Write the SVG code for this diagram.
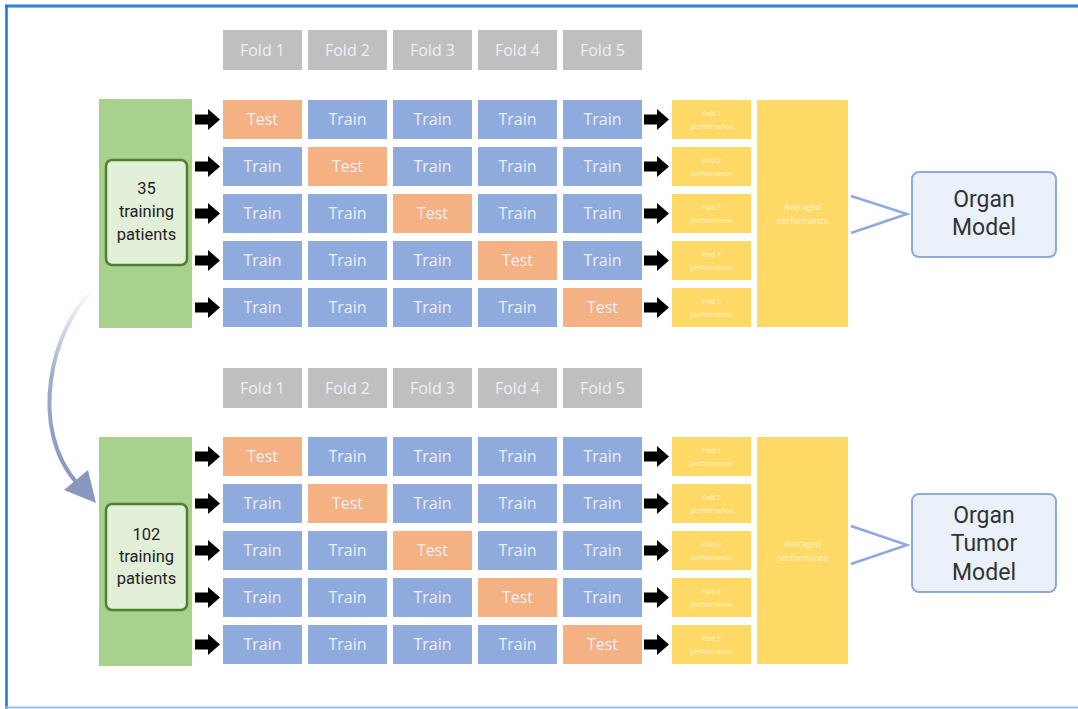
<svg xmlns="http://www.w3.org/2000/svg" xmlns:xlink="http://www.w3.org/1999/xlink" width="1078" height="709" viewBox="0 0 1078 709">
<style>
.hdr{fill:#bfbfbf}
.test{fill:#f4b183}
.train{fill:#8faadc}
.perf{fill:#ffd966}
.grn{fill:#a9d18e}
.inner{fill:#e2f0d9;stroke:#4f7f2f;stroke-width:2.5}
.ct{font-family:"Open Sans","Liberation Sans",sans-serif;font-size:16px;fill:#eef0f6;text-anchor:middle}
.pt{font-family:"Open Sans","Liberation Sans",sans-serif;font-size:7px;fill:#fff3cc;text-anchor:middle}
.at{font-family:"Open Sans","Liberation Sans",sans-serif;font-size:8.5px;fill:#fff3cc;text-anchor:middle}
.nt{font-family:Roboto,"Liberation Sans",sans-serif;font-size:16.5px;fill:#222;text-anchor:middle}
.mt{font-family:Roboto,"Liberation Sans",sans-serif;font-size:23px;fill:#333;text-anchor:middle}
.model{fill:#eaf1fb;stroke:#8ea9db;stroke-width:2}
.chev{fill:none;stroke:#8ea9db;stroke-width:2.5}
</style>
<defs>
<path id="blk" d="M0,-5 H13 V-10.5 L25,0 L13,10.5 V5 H0 Z" fill="#000"/>
<linearGradient id="cg" x1="0" y1="0" x2="0" y2="1">
<stop offset="0" stop-color="#8797c0" stop-opacity="0"/>
<stop offset="0.45" stop-color="#8797c0" stop-opacity="0.8"/>
<stop offset="1" stop-color="#8797c0"/>
</linearGradient>
</defs>
<rect x="0" y="0" width="1078" height="709" fill="#fff"/>
<g id="frame">
<line x1="5" y1="6" x2="1078" y2="6" stroke="#b8c4d4" stroke-width="4"/>
<line x1="5" y1="6" x2="1078" y2="6" stroke="#2f86dc" stroke-width="2.5"/>
<line x1="6.5" y1="5" x2="6.5" y2="709" stroke="#1f74d0" stroke-width="2.5"/>
<line x1="5" y1="707.5" x2="1078" y2="707.5" stroke="#90c2f0" stroke-width="2"/>
</g>

<g id="section1">
<g id="headers1">
<rect class="hdr" x="223" y="30" width="79" height="40"/><text class="ct" x="262.5" y="56">Fold 1</text>
<rect class="hdr" x="308" y="30" width="79" height="40"/><text class="ct" x="347.5" y="56">Fold 2</text>
<rect class="hdr" x="393" y="30" width="79" height="40"/><text class="ct" x="432.5" y="56">Fold 3</text>
<rect class="hdr" x="478" y="30" width="79" height="40"/><text class="ct" x="517.5" y="56">Fold 4</text>
<rect class="hdr" x="563" y="30" width="79" height="40"/><text class="ct" x="602.5" y="56">Fold 5</text>
</g>
<g id="data1">
<rect class="grn" x="99" y="99" width="93" height="229"/>
<rect class="inner" x="106" y="160" width="81" height="105" rx="6"/>
<text class="nt" x="146.5" y="194">35</text>
<text class="nt" x="146.5" y="217">training</text>
<text class="nt" x="146.5" y="240">patients</text>
</g>
<g id="grid1">
<rect class="test" x="223" y="100" width="79" height="39"/><text class="ct" x="262.5" y="125">Test</text>
<rect class="train" x="308" y="100" width="79" height="39"/><text class="ct" x="347.5" y="125">Train</text>
<rect class="train" x="393" y="100" width="79" height="39"/><text class="ct" x="432.5" y="125">Train</text>
<rect class="train" x="478" y="100" width="79" height="39"/><text class="ct" x="517.5" y="125">Train</text>
<rect class="train" x="563" y="100" width="79" height="39"/><text class="ct" x="602.5" y="125">Train</text>

<rect class="train" x="223" y="147" width="79" height="39"/><text class="ct" x="262.5" y="172">Train</text>
<rect class="test" x="308" y="147" width="79" height="39"/><text class="ct" x="347.5" y="172">Test</text>
<rect class="train" x="393" y="147" width="79" height="39"/><text class="ct" x="432.5" y="172">Train</text>
<rect class="train" x="478" y="147" width="79" height="39"/><text class="ct" x="517.5" y="172">Train</text>
<rect class="train" x="563" y="147" width="79" height="39"/><text class="ct" x="602.5" y="172">Train</text>

<rect class="train" x="223" y="194" width="79" height="39"/><text class="ct" x="262.5" y="219">Train</text>
<rect class="train" x="308" y="194" width="79" height="39"/><text class="ct" x="347.5" y="219">Train</text>
<rect class="test" x="393" y="194" width="79" height="39"/><text class="ct" x="432.5" y="219">Test</text>
<rect class="train" x="478" y="194" width="79" height="39"/><text class="ct" x="517.5" y="219">Train</text>
<rect class="train" x="563" y="194" width="79" height="39"/><text class="ct" x="602.5" y="219">Train</text>

<rect class="train" x="223" y="241" width="79" height="39"/><text class="ct" x="262.5" y="266">Train</text>
<rect class="train" x="308" y="241" width="79" height="39"/><text class="ct" x="347.5" y="266">Train</text>
<rect class="train" x="393" y="241" width="79" height="39"/><text class="ct" x="432.5" y="266">Train</text>
<rect class="test" x="478" y="241" width="79" height="39"/><text class="ct" x="517.5" y="266">Test</text>
<rect class="train" x="563" y="241" width="79" height="39"/><text class="ct" x="602.5" y="266">Train</text>

<rect class="train" x="223" y="288" width="79" height="39"/><text class="ct" x="262.5" y="313">Train</text>
<rect class="train" x="308" y="288" width="79" height="39"/><text class="ct" x="347.5" y="313">Train</text>
<rect class="train" x="393" y="288" width="79" height="39"/><text class="ct" x="432.5" y="313">Train</text>
<rect class="train" x="478" y="288" width="79" height="39"/><text class="ct" x="517.5" y="313">Train</text>
<rect class="test" x="563" y="288" width="79" height="39"/><text class="ct" x="602.5" y="313">Test</text>
</g>
<g id="perf1">
<rect class="perf" x="672" y="100" width="79" height="39"/><text class="pt" x="711.5" y="116">Fold 1</text><text class="pt" x="711.5" y="129">performance</text>
<rect class="perf" x="672" y="147" width="79" height="39"/><text class="pt" x="711.5" y="163">Fold 2</text><text class="pt" x="711.5" y="176">performance</text>
<rect class="perf" x="672" y="194" width="79" height="39"/><text class="pt" x="711.5" y="210">Fold 3</text><text class="pt" x="711.5" y="223">performance</text>
<rect class="perf" x="672" y="241" width="79" height="39"/><text class="pt" x="711.5" y="257">Fold 4</text><text class="pt" x="711.5" y="270">performance</text>
<rect class="perf" x="672" y="288" width="79" height="39"/><text class="pt" x="711.5" y="304">Fold 5</text><text class="pt" x="711.5" y="317">performance</text>
</g>
<g id="avg1">
<rect class="perf" x="757" y="100" width="91" height="227"/>
<text class="at" x="802.5" y="210">Averaged</text>
<text class="at" x="802.5" y="224">performance</text>
</g>
<g id="model1">
<rect class="model" x="912" y="172" width="144" height="85" rx="7"/>
<text class="mt" x="984" y="207">Organ</text>
<text class="mt" x="984" y="235">Model</text>
</g>
</g>

<g id="section2">
<g id="headers2">
<rect class="hdr" x="223" y="368" width="79" height="40"/><text class="ct" x="262.5" y="394">Fold 1</text>
<rect class="hdr" x="308" y="368" width="79" height="40"/><text class="ct" x="347.5" y="394">Fold 2</text>
<rect class="hdr" x="393" y="368" width="79" height="40"/><text class="ct" x="432.5" y="394">Fold 3</text>
<rect class="hdr" x="478" y="368" width="79" height="40"/><text class="ct" x="517.5" y="394">Fold 4</text>
<rect class="hdr" x="563" y="368" width="79" height="40"/><text class="ct" x="602.5" y="394">Fold 5</text>
</g>
<g id="data2">
<rect class="grn" x="99" y="437" width="93" height="229"/>
<rect class="inner" x="106" y="504" width="81" height="106" rx="6"/>
<text class="nt" x="146.5" y="540">102</text>
<text class="nt" x="146.5" y="562">training</text>
<text class="nt" x="146.5" y="584">patients</text>
</g>
<g id="grid2">
<rect class="test" x="223" y="437" width="79" height="39"/><text class="ct" x="262.5" y="462">Test</text>
<rect class="train" x="308" y="437" width="79" height="39"/><text class="ct" x="347.5" y="462">Train</text>
<rect class="train" x="393" y="437" width="79" height="39"/><text class="ct" x="432.5" y="462">Train</text>
<rect class="train" x="478" y="437" width="79" height="39"/><text class="ct" x="517.5" y="462">Train</text>
<rect class="train" x="563" y="437" width="79" height="39"/><text class="ct" x="602.5" y="462">Train</text>

<rect class="train" x="223" y="484" width="79" height="39"/><text class="ct" x="262.5" y="509">Train</text>
<rect class="test" x="308" y="484" width="79" height="39"/><text class="ct" x="347.5" y="509">Test</text>
<rect class="train" x="393" y="484" width="79" height="39"/><text class="ct" x="432.5" y="509">Train</text>
<rect class="train" x="478" y="484" width="79" height="39"/><text class="ct" x="517.5" y="509">Train</text>
<rect class="train" x="563" y="484" width="79" height="39"/><text class="ct" x="602.5" y="509">Train</text>

<rect class="train" x="223" y="531" width="79" height="39"/><text class="ct" x="262.5" y="556">Train</text>
<rect class="train" x="308" y="531" width="79" height="39"/><text class="ct" x="347.5" y="556">Train</text>
<rect class="test" x="393" y="531" width="79" height="39"/><text class="ct" x="432.5" y="556">Test</text>
<rect class="train" x="478" y="531" width="79" height="39"/><text class="ct" x="517.5" y="556">Train</text>
<rect class="train" x="563" y="531" width="79" height="39"/><text class="ct" x="602.5" y="556">Train</text>

<rect class="train" x="223" y="578" width="79" height="39"/><text class="ct" x="262.5" y="603">Train</text>
<rect class="train" x="308" y="578" width="79" height="39"/><text class="ct" x="347.5" y="603">Train</text>
<rect class="train" x="393" y="578" width="79" height="39"/><text class="ct" x="432.5" y="603">Train</text>
<rect class="test" x="478" y="578" width="79" height="39"/><text class="ct" x="517.5" y="603">Test</text>
<rect class="train" x="563" y="578" width="79" height="39"/><text class="ct" x="602.5" y="603">Train</text>

<rect class="train" x="223" y="625" width="79" height="39"/><text class="ct" x="262.5" y="650">Train</text>
<rect class="train" x="308" y="625" width="79" height="39"/><text class="ct" x="347.5" y="650">Train</text>
<rect class="train" x="393" y="625" width="79" height="39"/><text class="ct" x="432.5" y="650">Train</text>
<rect class="train" x="478" y="625" width="79" height="39"/><text class="ct" x="517.5" y="650">Train</text>
<rect class="test" x="563" y="625" width="79" height="39"/><text class="ct" x="602.5" y="650">Test</text>
</g>
<g id="perf2">
<rect class="perf" x="672" y="437" width="79" height="39"/><text class="pt" x="711.5" y="453">Fold 1</text><text class="pt" x="711.5" y="466">performance</text>
<rect class="perf" x="672" y="484" width="79" height="39"/><text class="pt" x="711.5" y="500">Fold 2</text><text class="pt" x="711.5" y="513">performance</text>
<rect class="perf" x="672" y="531" width="79" height="39"/><text class="pt" x="711.5" y="547">Fold 3</text><text class="pt" x="711.5" y="560">performance</text>
<rect class="perf" x="672" y="578" width="79" height="39"/><text class="pt" x="711.5" y="594">Fold 4</text><text class="pt" x="711.5" y="607">performance</text>
<rect class="perf" x="672" y="625" width="79" height="39"/><text class="pt" x="711.5" y="641">Fold 5</text><text class="pt" x="711.5" y="654">performance</text>
</g>
<g id="avg2">
<rect class="perf" x="757" y="437" width="91" height="227"/>
<text class="at" x="802.5" y="547">Averaged</text>
<text class="at" x="802.5" y="561">performance</text>
</g>
<g id="model2">
<rect class="model" x="912" y="494" width="144" height="98" rx="7"/>
<text class="mt" x="984" y="523">Organ</text>
<text class="mt" x="984" y="551">Tumor</text>
<text class="mt" x="984" y="580">Model</text>
</g>
</g>

<g id="connectors">
<use href="#blk" x="195" y="119.5"/>
<use href="#blk" x="195" y="166.5"/>
<use href="#blk" x="195" y="213.5"/>
<use href="#blk" x="195" y="260.5"/>
<use href="#blk" x="195" y="307.5"/>
<use href="#blk" x="644" y="119.5"/>
<use href="#blk" x="644" y="166.5"/>
<use href="#blk" x="644" y="213.5"/>
<use href="#blk" x="644" y="260.5"/>
<use href="#blk" x="644" y="307.5"/>
<use href="#blk" x="195" y="456.5"/>
<use href="#blk" x="195" y="503.5"/>
<use href="#blk" x="195" y="550.5"/>
<use href="#blk" x="195" y="597.5"/>
<use href="#blk" x="195" y="644.5"/>
<use href="#blk" x="644" y="456.5"/>
<use href="#blk" x="644" y="503.5"/>
<use href="#blk" x="644" y="550.5"/>
<use href="#blk" x="644" y="597.5"/>
<use href="#blk" x="644" y="644.5"/>
<polyline class="chev" points="851,196 907,214 851,233"/>
<polyline class="chev" points="851,526 907,545 851,564"/>
<path d="M95,288 C50,328 28,430 78,484" fill="none" stroke="url(#cg)" stroke-width="4"/>
<polygon points="96,503 64,490 88,470" fill="#8797c0"/>
</g>
</svg>
